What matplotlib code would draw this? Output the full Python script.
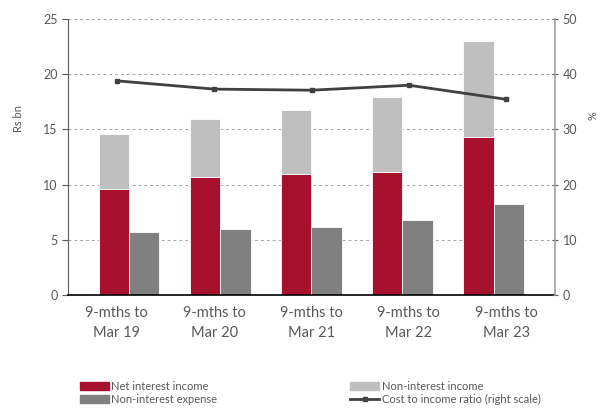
import numpy as np
from matplotlib import pyplot as plt
from matplotlib.lines import Line2D
from matplotlib.patches import Patch

categories = ["9-mths to\nMar 19", "9-mths to\nMar 20", "9-mths to\nMar 21",
              "9-mths to\nMar 22", "9-mths to\nMar 23"]
net_interest_income = [9.6, 10.7, 11.0, 11.17, 14.3]
non_interest_income = [4.98, 5.25, 5.76, 6.73, 8.74]
non_interest_expense = [5.68, 5.95, 6.19, 6.82, 8.21]
cost_to_income = [38.8, 37.3, 37.1, 38.0, 35.45]

RED = "#a8112e"
LIGHT = "#bfbfbf"
DARK = "#808080"
LINE = "#404040"
TEXT = "#595959"


def main():
    plt.rcParams["font.family"] = ["Lato", "DejaVu Sans"]
    fig = plt.figure(figsize=(6, 4.13), dpi=100)
    ax = fig.add_axes([68 / 600, 118 / 413, 487 / 600, 276 / 413])

    n = len(categories)
    cat = np.arange(n) + 0.5
    # bars sit on a slightly tighter grid than the categories
    split = 0.626 + 0.936 * np.arange(n)
    w = 0.312

    ax.bar(split - w / 2, net_interest_income, w, color=RED, edgecolor="white", linewidth=0.6, zorder=2)
    ax.bar(split - w / 2, non_interest_income, w, bottom=net_interest_income,
           color=LIGHT, edgecolor="white", linewidth=0.6, zorder=2)
    ax.bar(split + w / 2, non_interest_expense, w, color=DARK, edgecolor="white", linewidth=0.6, zorder=2)

    ax.set_xlim(0, n)
    ax.set_ylim(0, 25)
    ax.set_yticks(range(0, 26, 5))
    ax.set_xticks(cat)
    ax.set_xticklabels(categories, fontsize=10.5, color=TEXT, linespacing=1.5)
    ax.tick_params(axis="x", length=0, pad=8)
    ax.tick_params(axis="y", labelsize=9, labelcolor=TEXT, color=TEXT, length=4, direction="out")
    ax.yaxis.grid(True, linestyle=(0, (3, 3)), color="#a6a6a6", linewidth=0.7, zorder=0)
    ax.set_axisbelow(True)
    for s in ["top", "right"]:
        ax.spines[s].set_visible(False)
    ax.spines["left"].set_color(TEXT)
    ax.spines["bottom"].set_color("black")
    ax.spines["bottom"].set_linewidth(1.2)

    ax2 = ax.twinx()
    ax2.plot(cat, cost_to_income, color=LINE, linewidth=2, marker="s", markersize=3.5, zorder=3)
    ax2.set_ylim(0, 50)
    ax2.set_yticks(range(0, 51, 10))
    ax2.tick_params(axis="y", labelsize=9, labelcolor=TEXT, color=TEXT, length=4, direction="inout")
    for s in ["top", "left", "bottom"]:
        ax2.spines[s].set_visible(False)
    ax2.spines["right"].set_color("#a0a0a0")
    ax2.spines["right"].set_linewidth(1.2)

    fig.text(18 / 600, 1 - 118 / 413, "Rs bn", rotation=90, fontsize=8, color=TEXT, ha="center", va="center")
    fig.text(593 / 600, 1 - 116 / 413, "%", rotation=90, fontsize=8, color=TEXT, ha="center", va="center")

    handles = [
        Patch(color=RED, label="Net interest income"),
        Patch(color=DARK, label="Non-interest expense"),
        Patch(color=LIGHT, label="Non-interest income"),
        Line2D([], [], color=LINE, linewidth=2, marker="s", markersize=3, label="Cost to income ratio (right scale)"),
    ]
    fig.legend(handles=handles, ncol=2, loc="upper left", bbox_to_anchor=(70 / 600, 1 - 371 / 413),
               frameon=False, fontsize=8, handlelength=2.6, handleheight=0.7, handletextpad=0.2,
               columnspacing=12, labelspacing=0.2, labelcolor=TEXT)

    fig.savefig("out.png", dpi=100)


if __name__ == "__main__":
    main()
